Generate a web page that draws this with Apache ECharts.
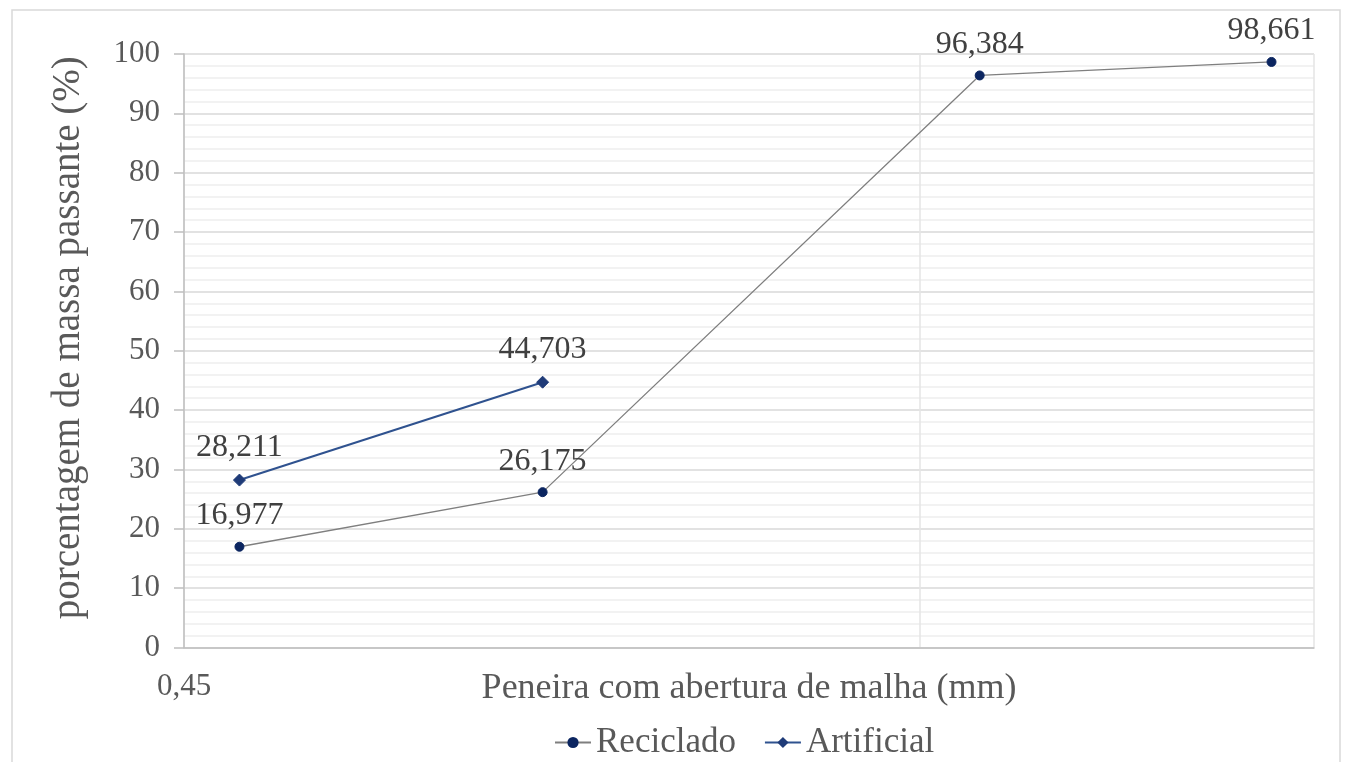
<!DOCTYPE html>
<html>
<head>
<meta charset="utf-8">
<title>Curva granulométrica</title>
<script src="https://cdn.jsdelivr.net/npm/echarts@6/dist/echarts.min.js"></script>
<style>
  html, body { margin: 0; padding: 0; background: #ffffff; }
  #chart { width: 1351px; height: 762px; }
</style>
</head>
<body>
<div id="chart"></div>
<script>
// Sieve openings (mm) and passing percentages
const aberturasReciclado = [0.535, 1.378, 5.39, 13.4];
const passanteReciclado = [16.977, 26.175, 96.384, 98.661];
const aberturasArtificial = [0.535, 1.378];
const passanteArtificial = [28.211, 44.703];

const seriesNames = ['Reciclado', 'Artificial'];
const xTitle = 'Peneira com abertura de malha (mm)';
const yTitle = 'porcentagem de massa passante (%)';

// Logarithmic opening axis: drawn on a value axis in log10 space
const aberturaMin = 0.45;
const aberturaMax = 15.3;
const xMin = Math.log10(aberturaMin);
const xMax = Math.log10(aberturaMax);

const serif = '"Liberation Serif", "Times New Roman", serif';
const fmt = v => v.toFixed(3).replace('.', ',');

function pairs(xs, ys) {
  return xs.map((x, i) => [Math.log10(x), ys[i]]);
}

const chart = echarts.init(document.getElementById('chart'), null, { renderer: 'canvas' });

chart.setOption({
  backgroundColor: '#ffffff',
  animation: false,
  graphic: [{
    type: 'rect',
    shape: { x: 12, y: 10, width: 1328, height: 770 },
    style: { fill: 'none', stroke: '#d9d9d9', lineWidth: 1.5 },
    silent: true
  }],
  grid: { left: 184, right: 37, top: 54, bottom: 114.5 },
  xAxis: {
    type: 'value',
    min: xMin,
    max: xMax,
    interval: 1,
    name: xTitle,
    nameLocation: 'middle',
    nameGap: 23,
    nameMoveOverlap: false,
    nameTextStyle: { fontFamily: serif, fontSize: 36, color: '#595959' },
    axisLine: { show: true, onZero: false, lineStyle: { color: '#bfbfbf', width: 1.5 } },
    axisTick: { show: false },
    axisLabel: {
      fontFamily: serif, fontSize: 31, color: '#595959', margin: 24,
      showMinLabel: true, showMaxLabel: false,
      formatter: v => Math.abs(v - xMin) < 1e-6
        ? Math.pow(10, v).toFixed(2).replace('.', ',') : ''
    },
    splitLine: { show: true, lineStyle: { color: '#e4e4e4', width: 1.5 } }
  },
  yAxis: {
    type: 'value',
    min: 0,
    max: 100,
    interval: 10,
    name: yTitle,
    nameLocation: 'middle',
    nameGap: 96,
    nameMoveOverlap: false,
    nameTextStyle: { fontFamily: serif, fontSize: 39, color: '#595959', padding: [0, 0, 0, 26] },
    axisLine: { show: true, onZero: false, lineStyle: { color: '#bfbfbf', width: 1.5 } },
    axisTick: { show: true, inside: false, length: 10, lineStyle: { color: '#bfbfbf', width: 1.5 } },
    axisLabel: { fontFamily: serif, fontSize: 31, color: '#595959', margin: 24 },
    splitLine: { show: true, lineStyle: { color: '#d9d9d9', width: 1.5 } },
    minorTick: { show: false, splitNumber: 5 },
    minorSplitLine: { show: true, lineStyle: { color: '#eeeeee', width: 1.5 } }
  },
  legend: {
    data: seriesNames,
    left: 549,
    top: 720,
    itemWidth: 36,
    itemHeight: 14,
    itemGap: 28,
    textStyle: { fontFamily: serif, fontSize: 35, color: '#595959' }
  },
  series: [
    {
      name: seriesNames[0],
      type: 'line',
      data: pairs(aberturasReciclado, passanteReciclado),
      symbol: 'circle',
      symbolSize: 9,
      lineStyle: { color: '#7f7f7f', width: 1.3 },
      itemStyle: { color: '#0b2560', borderColor: '#0b2560' },
      label: {
        show: true, position: 'top', distance: 10,
        fontFamily: serif, fontSize: 32, color: '#404040',
        formatter: p => fmt(p.value[1])
      },
      z: 3
    },
    {
      name: seriesNames[1],
      type: 'line',
      data: pairs(aberturasArtificial, passanteArtificial),
      symbol: 'diamond',
      symbolSize: 12,
      lineStyle: { color: '#2f528f', width: 2 },
      itemStyle: { color: '#1f3b78', borderColor: '#1f3b78' },
      label: {
        show: true, position: 'top', distance: 10,
        fontFamily: serif, fontSize: 32, color: '#404040',
        formatter: p => fmt(p.value[1])
      },
      z: 4
    }
  ]
});
</script>
</body>
</html>
